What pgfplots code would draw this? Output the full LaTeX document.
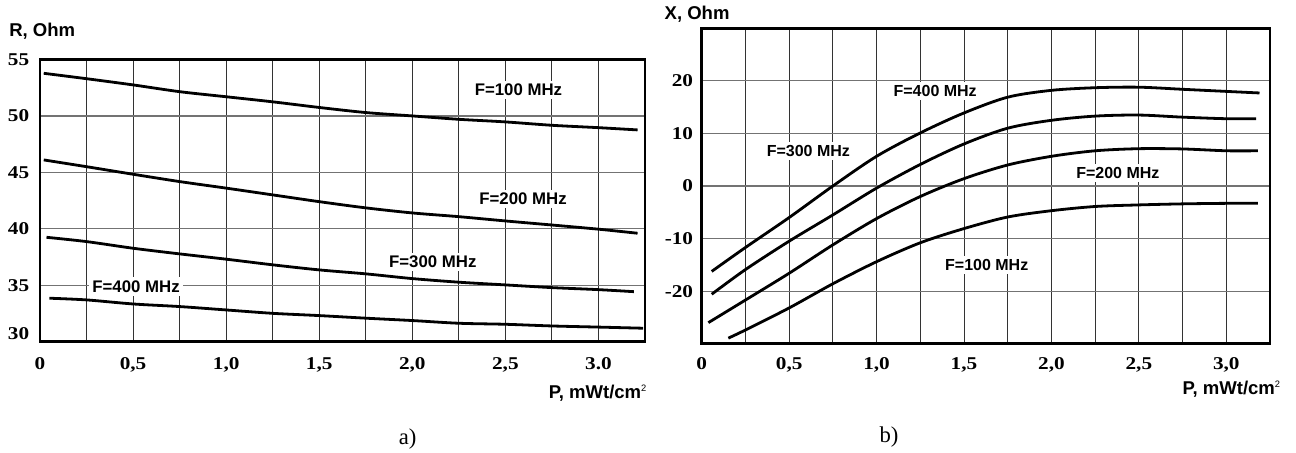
\documentclass[border=0pt]{standalone}
\usepackage{fontspec}
\setmainfont{Liberation Serif}
\newfontfamily\sansf{Liberation Sans}
\usepackage{graphicx}
\usepackage{pgfplots}
\pgfplotsset{compat=1.18}

\newcommand\tl[1]{\scalebox{1.18}[1]{#1}}
\newcommand\tickfont{\fontsize{13.5pt}{15pt}\selectfont\bfseries}
\newcommand\axfont{\sansf\bfseries\fontsize{13.9pt}{16pt}\selectfont}
\newcommand\lblL{\sansf\bfseries\fontsize{12.6pt}{14pt}\selectfont}
\newcommand\lblR{\sansf\bfseries\fontsize{12.0pt}{14pt}\selectfont}
\newcommand\sq{\raisebox{5.5pt}{\fontsize{7pt}{8pt}\selectfont\mdseries 2}}

\pgfplotsset{
  curve/.style={line width=2.1pt, black, smooth, tension=0.5, mark=none},
  base/.style={
    scale only axis, anchor=south west,
    xmin=0, xmax=3.25,
    xtick={0,0.25,0.5,0.75,1,1.25,1.5,1.75,2,2.25,2.5,2.75,3},
    major tick length=0pt,
    xmajorgrids, ymajorgrids,
    x grid style={black!80, line width=0.7pt},
    y grid style={black!55, line width=0.9pt},
    axis line style={line width=2.2pt},
    tick label style={font=\tickfont},
    xticklabel style={anchor=base},
    yticklabel style={anchor=east, inner sep=0pt},
  }
}

\begin{document}
\begin{tikzpicture}
\path[use as bounding box] (0,0) rectangle (972pt,339.75pt);

% ---------- a) ----------
\begin{axis}[base,
  at={(30pt,83.6pt)}, width=453.75pt, height=211.5pt,
  ymin=30, ymax=55, ytick={30,35,40,45,50,55},
  yticklabels={{\raisebox{12pt}{\tl{30}}},{\tl{35}},{\tl{40}},{\tl{45}},{\tl{50}},{\tl{55}}},
  xticklabels={{\tl{0}},{},{\tl{0,5}},{},{\tl{1,0}},{},{\tl{1,5}},{},{\tl{2,0}},{},{\tl{2,5}},{},{\tl{3.0}}},
  xticklabel style={yshift=-20.9pt},
  yticklabel style={xshift=-7.9pt},
]
\addplot[curve] coordinates {(0.02,53.78)(0.25,53.3)(0.5,52.75)(0.75,52.15)(1.0,51.7)(1.25,51.25)(1.5,50.75)(1.75,50.3)(2.0,50.0)(2.25,49.7)(2.5,49.47)(2.75,49.17)(3.0,48.96)(3.21,48.76)};
\addplot[curve] coordinates {(0.02,46.1)(0.25,45.5)(0.5,44.83)(0.75,44.18)(1.0,43.6)(1.25,43.0)(1.5,42.4)(1.75,41.85)(2.0,41.4)(2.25,41.07)(2.5,40.69)(2.75,40.33)(3.0,39.96)(3.21,39.6)};
\addplot[curve] coordinates {(0.035,39.24)(0.25,38.86)(0.5,38.27)(0.75,37.77)(1.0,37.3)(1.25,36.8)(1.5,36.35)(1.75,36.0)(2.0,35.58)(2.25,35.26)(2.5,35.02)(2.75,34.78)(3.0,34.6)(3.19,34.42)};
\addplot[curve] coordinates {(0.05,33.84)(0.25,33.69)(0.5,33.33)(0.75,33.1)(1.0,32.8)(1.25,32.5)(1.5,32.3)(1.75,32.07)(2.0,31.86)(2.25,31.62)(2.5,31.53)(2.75,31.38)(3.0,31.28)(3.24,31.18)};
\node[fill=white, inner sep=2.5pt, font=\lblL] at (axis cs:2.57,52.3) {F=100 MHz};
\node[fill=white, inner sep=2.5pt, font=\lblL] at (axis cs:2.595,42.63) {F=200 MHz};
\node[fill=white, inner sep=2.5pt, font=\lblL] at (axis cs:2.11,37.05) {F=300 MHz};
\node[fill=white, inner sep=2.5pt, font=\lblL] at (axis cs:0.516,34.86) {F=400 MHz};
\end{axis}

% ---------- b) ----------
\begin{axis}[base,
  at={(526.3pt,82pt)}, width=426.2pt, height=236.5pt,
  ymin=-30, ymax=30, ytick={-20,-10,0,10,20},
  yticklabels={{\tl{-20}},{\tl{-10}},{\tl{0}},{\tl{10}},{\tl{20}}},
  xticklabels={{\tl{0}},{},{\tl{0,5}},{},{\tl{1,0}},{},{\tl{1,5}},{},{\tl{2,0}},{},{\tl{2,5}},{},{\tl{3,0}}},
  xticklabel style={yshift=-19.3pt},
  yticklabel style={xshift=-6.3pt},
]
\addplot[curve] coordinates {(0.057,-16.25)(0.25,-11.7)(0.5,-6.0)(0.75,0.0)(1.0,5.65)(1.25,10.1)(1.5,13.9)(1.75,16.9)(2.0,18.2)(2.25,18.7)(2.5,18.8)(2.75,18.4)(3.0,18.0)(3.19,17.7)};
\addplot[curve] coordinates {(0.057,-20.6)(0.25,-15.9)(0.5,-10.5)(0.75,-5.5)(1.0,-0.4)(1.25,4.1)(1.5,8.0)(1.75,11.0)(2.0,12.5)(2.25,13.3)(2.5,13.5)(2.75,13.1)(3.0,12.8)(3.17,12.8)};
\addplot[curve] coordinates {(0.038,-26.0)(0.25,-21.7)(0.5,-16.6)(0.75,-11.2)(1.0,-6.2)(1.25,-2.0)(1.5,1.4)(1.75,4.0)(2.0,5.65)(2.25,6.7)(2.5,7.1)(2.75,7.05)(3.0,6.7)(3.18,6.7)};
\addplot[curve] coordinates {(0.152,-28.95)(0.25,-27.4)(0.5,-23.2)(0.75,-18.6)(1.0,-14.4)(1.25,-10.8)(1.5,-8.1)(1.75,-5.9)(2.0,-4.7)(2.25,-3.9)(2.5,-3.6)(2.75,-3.4)(3.0,-3.3)(3.18,-3.3)};
\node[fill=white, inner sep=2.5pt, font=\lblR] at (axis cs:1.335,18.0) {F=400 MHz};
\node[fill=white, inner sep=2.5pt, font=\lblR] at (axis cs:0.61,6.6) {F=300 MHz};
\node[fill=white, inner sep=2.5pt, font=\lblR] at (axis cs:2.38,2.5) {F=200 MHz};
\node[fill=white, inner sep=2.5pt, font=\lblR] at (axis cs:1.63,-15.0) {F=100 MHz};
\end{axis}

% ---------- labels ----------
\node[anchor=west, inner sep=0pt, font=\axfont] at (6.75pt,316pt) {R, Ohm};
\node[anchor=west, inner sep=0pt, font=\axfont] at (498.3pt,328.9pt) {X, Ohm};
\node[anchor=east, inner sep=0pt, font=\axfont] at (485pt,44.8pt) {P, mWt/cm\sq};
\node[anchor=east, inner sep=0pt, font=\axfont] at (960.3pt,47.8pt) {P, mWt/cm\sq};
\node[font=\fontsize{17pt}{19pt}\selectfont] at (305.7pt,10.5pt) {a)};
\node[font=\fontsize{17pt}{19pt}\selectfont] at (666.75pt,12.2pt) {b)};
\end{tikzpicture}
\end{document}
